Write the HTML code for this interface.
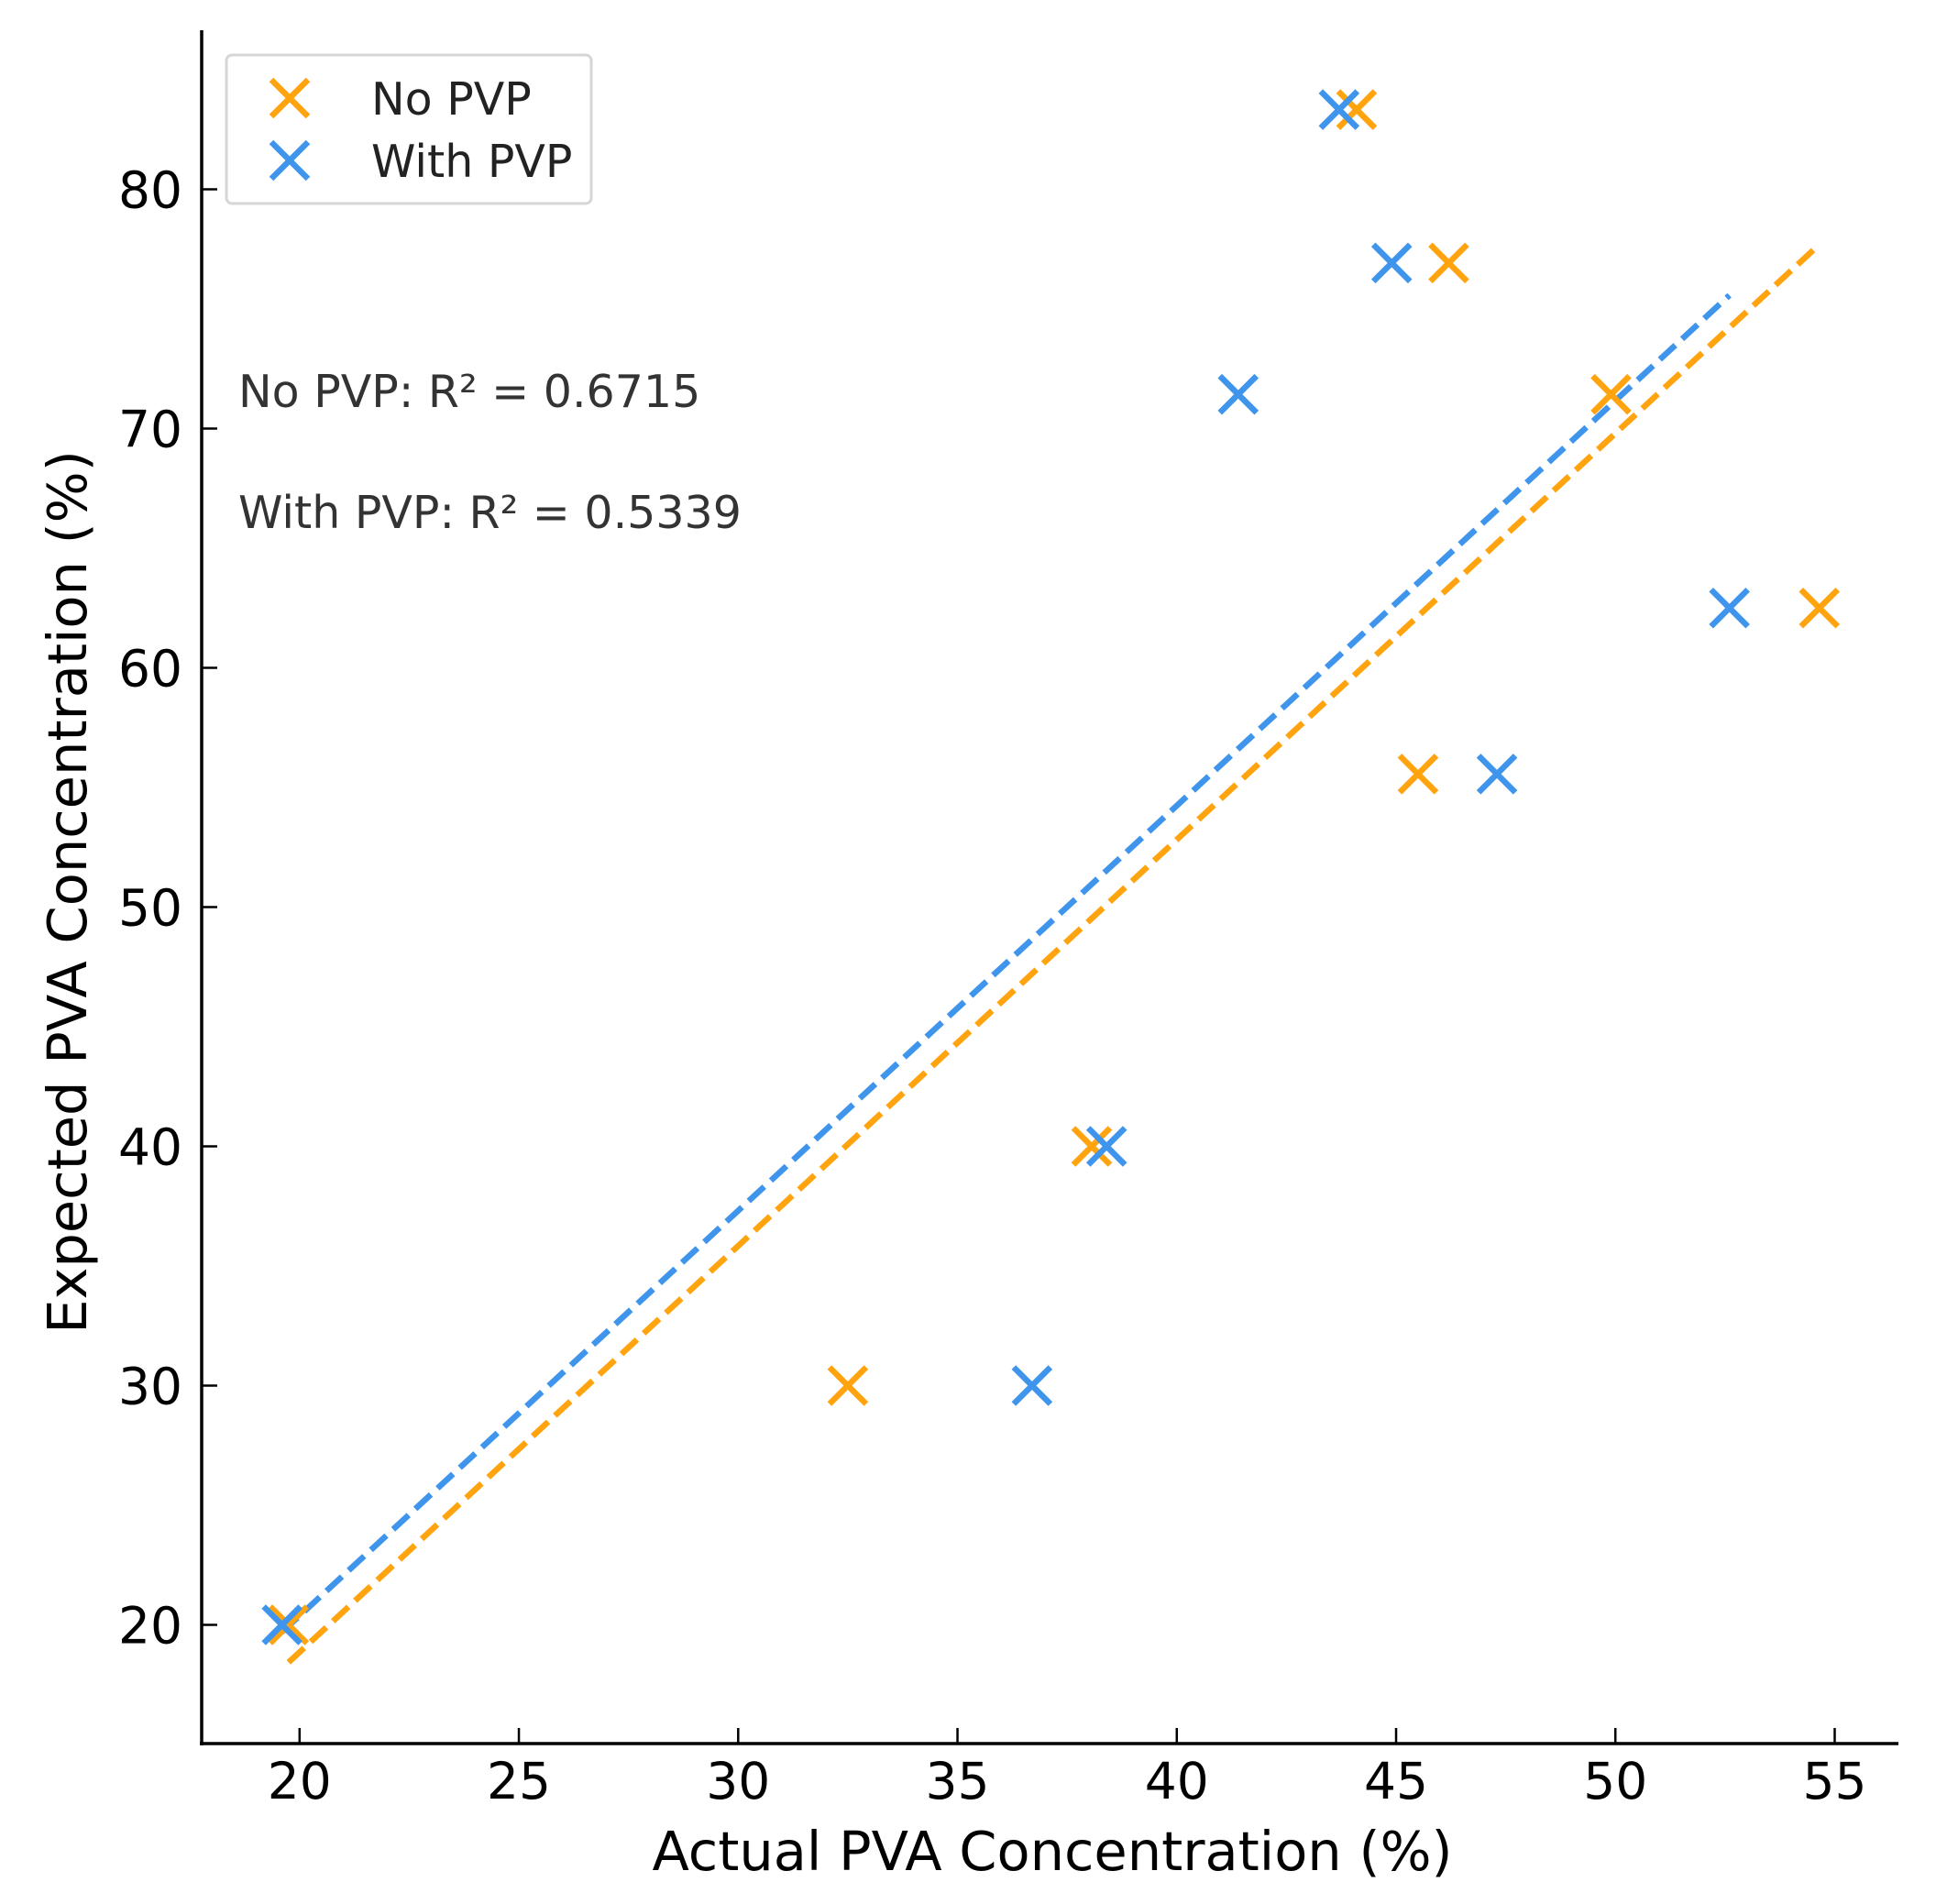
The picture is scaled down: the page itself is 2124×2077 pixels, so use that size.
<!DOCTYPE html>
<html><head><meta charset="utf-8"><style>
html,body{margin:0;padding:0;background:#fff;}
svg{display:block;font-family:"DejaVu Sans","Liberation Sans",sans-serif;}
</style></head><body>
<svg id="chart" width="2124" height="2077" viewBox="0 0 2124 2077">
<g id="grid"></g>
<g id="marks"></g>
<g id="axes"></g>
</svg>
<script>
const xTicks=[20,25,30,35,40,45,50,55];
const yTicks=[20,30,40,50,60,70,80];
const noPvpX=[19.75,32.5,38.06,45.5,49.9,46.2,44.1,54.65];
const noPvpY=[20,30,40,55.56,71.43,76.92,83.33,62.5];
const withPvpX=[19.6,36.7,38.4,47.3,41.4,44.9,43.7,52.6];
const withPvpY=[20,30,40,55.56,71.43,76.92,83.33,62.5];
const noPvpFit=[1.698,-15.1];
const withPvpFit=[1.693,-13.48];
const r2Labels=["No PVP: R\u00b2 = 0.6715","With PVP: R\u00b2 = 0.5339"];

const NS="http://www.w3.org/2000/svg";
const svg=document.getElementById('chart');
const marks=document.getElementById('marks');
const axes=document.getElementById('axes');
const X0=220,X1=2071,Y0=1902,YT=33;
function sx(v){return 326.8+(v-20)*(2001.5-326.8)/35;}
function sy(v){return 1772.5-(v-20)*26.1;}
function mk(tag,attrs,parent){const e=document.createElementNS(NS,tag);for(const k in attrs)e.setAttribute(k,attrs[k]);(parent||svg).appendChild(e);return e;}
const ORANGE="#ffa30f",BLUE="#3f95ec";

function fitLine(fit,xs,color,name){
  const a=Math.min(...xs),b=Math.max(...xs);
  const l=mk('line',{x1:sx(a),y1:sy(fit[0]*a+fit[1]),x2:sx(b),y2:sy(fit[0]*b+fit[1]),stroke:color,'stroke-width':6.5,'stroke-dasharray':'23 10'},marks);
  
  
}
function cross(cx,cy,color,parent){
  const g=mk('g',{},parent);
  const s=20;
  mk('path',{d:`M${cx-s},${cy-s}L${cx+s},${cy+s}M${cx-s},${cy+s}L${cx+s},${cy-s}`,stroke:color,'stroke-width':6.5,fill:'none'},g);
  return g;
}
fitLine(noPvpFit,noPvpX,ORANGE,'no-pvp-fit-line');
fitLine(withPvpFit,withPvpX,BLUE,'with-pvp-fit-line');
noPvpX.forEach((x,i)=>{const g=cross(sx(x),sy(noPvpY[i]),ORANGE,marks);

});
withPvpX.forEach((x,i)=>{const g=cross(sx(x),sy(withPvpY[i]),BLUE,marks);

});

let e=mk('line',{x1:X0,y1:YT,x2:X0,y2:Y0+2,stroke:'#000','stroke-width':3.5},axes);

e=mk('line',{x1:X0-2,y1:Y0,x2:X1,y2:Y0,stroke:'#000','stroke-width':3.5},axes);

xTicks.forEach(t=>{
  mk('line',{x1:sx(t),y1:Y0,x2:sx(t),y2:Y0-17,stroke:'#000','stroke-width':2.5},axes);
  const tx=mk('text',{x:sx(t),y:1962,'text-anchor':'middle','font-size':55,fill:'#000'},axes);
  tx.textContent=t;
  
  
});
yTicks.forEach(t=>{
  mk('line',{x1:X0,y1:sy(t),x2:X0+17,y2:sy(t),stroke:'#000','stroke-width':2.5},axes);
  const tx=mk('text',{x:199,y:sy(t)+20,'text-anchor':'end','font-size':55,fill:'#000'},axes);
  tx.textContent=t;
  
  
});
e=mk('text',{x:1148,y:2040,'text-anchor':'middle','font-size':59,fill:'#000'},axes);
e.textContent='Actual PVA Concentration (%)';

e=mk('text',{x:0,y:0,'text-anchor':'middle','font-size':59,fill:'#000',transform:'translate(94,973) rotate(-90)'},axes);
e.textContent='Expected PVA Concentration (%)';


r2Labels.forEach((s,i)=>{
  const t=mk('text',{x:260,y:444+i*132,'font-size':49,fill:'#333'},axes);
  t.textContent=s;
  
  
});

const lg=mk('g',{},axes);


mk('rect',{x:247,y:60,width:398,height:162,rx:6,fill:'#fff',stroke:'#d6d6d6','stroke-width':3},lg);
const ent=[['No PVP',ORANGE,107],['With PVP',BLUE,175]];
ent.forEach(([lab,c,y])=>{
  const g=mk('g',{},lg);
  
  
  cross(316,y,c,g);
  const t=mk('text',{x:405,y:y+18,'font-size':49,fill:'#222'},g);
  t.textContent=lab;
});
</script>
</body></html>
